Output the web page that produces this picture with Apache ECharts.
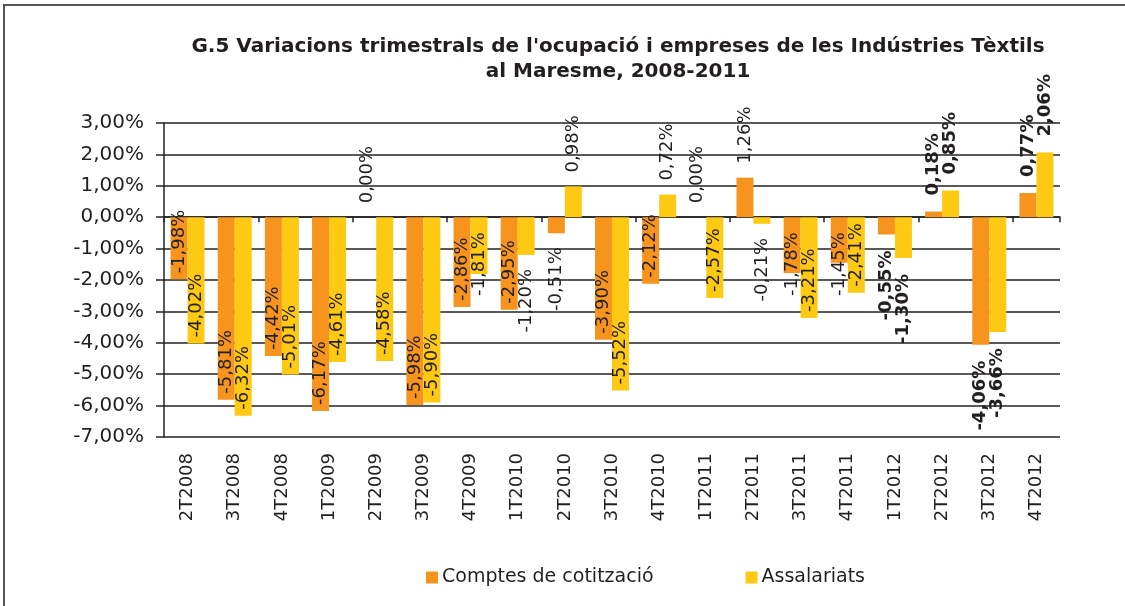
<!DOCTYPE html>
<html>
<head>
<meta charset="utf-8">
<script src="https://cdn.jsdelivr.net/npm/echarts@6/dist/echarts.min.js"></script>
<style>
html,body{margin:0;padding:0;background:#fff;}
#chart{width:1125px;height:606px;}
</style>
</head>
<body>
<div id="chart"></div>
<script>
const titleText = "G.5 Variacions trimestrals de l'ocupació i empreses de les Indústries Tèxtils\nal Maresme, 2008-2011";
const categories = ['2T2008','3T2008','4T2008','1T2009','2T2009','3T2009','4T2009','1T2010','2T2010','3T2010','4T2010','1T2011','2T2011','3T2011','4T2011','1T2012','2T2012','3T2012','4T2012'];
const seriesNames = ['Comptes de cotització', 'Assalariats'];
const comptes = [-1.98,-5.81,-4.42,-6.17,0.00,-5.98,-2.86,-2.95,-0.51,-3.90,-2.12,0.00,1.26,-1.78,-1.45,-0.55,0.18,-4.06,0.77];
const assalariats = [-4.02,-6.32,-5.01,-4.61,-4.58,-5.90,-1.81,-1.20,0.98,-5.52,0.72,-2.57,-0.21,-3.21,-2.41,-1.30,0.85,-3.66,2.06];
const yMin = -7, yMax = 3, yStep = 1;
const boldFrom = '1T2012';

const FONT = 'DejaVu Sans';
const TXT = '#231f20';

function fmt(v) {
  return v.toFixed(2).replace('.', ',') + '%';
}

function labelCfg(v, bold) {
  const base = { show: true, rotate: 90, verticalAlign: 'middle', color: TXT,
    fontFamily: FONT, fontSize: 18, fontWeight: bold ? 'bold' : 'normal',
    formatter: (p) => fmt(p.value) };
  if (bold) {
    return Object.assign(base, v >= 0
      ? { position: 'top', distance: 16, align: 'left' }
      : { position: 'bottom', distance: 16, align: 'right' });
  }
  if (v >= 0) return Object.assign(base, { position: 'top', distance: 14, align: 'left' });
  if (v <= -1.9) return Object.assign(base, { position: 'insideBottom', distance: 6, align: 'left' });
  if (v <= -1.4) return Object.assign(base, { position: 'insideTop', distance: 15, align: 'right' });
  return Object.assign(base, { position: 'bottom', distance: 14, align: 'right' });
}

const boldIdx = categories.indexOf(boldFrom);
function buildData(arr) {
  return arr.map((v, i) => ({ value: v, label: labelCfg(v, i >= boldIdx) }));
}

const chart = echarts.init(document.getElementById('chart'), null, { renderer: 'canvas' });
chart.setOption({
  animation: false,
  backgroundColor: '#fff',
  textStyle: { fontFamily: FONT },
  title: {
    text: titleText,
    left: 613,
    top: 29,
    textAlign: 'center',
    textStyle: { fontFamily: FONT, fontSize: 20, fontWeight: 'bold', color: TXT, lineHeight: 25 }
  },
  graphic: [{
    type: 'rect', shape: { x: 4, y: 5, width: 1200, height: 700 },
    style: { fill: null, stroke: '#555', lineWidth: 2 }, silent: true
  }],
  legend: {
    left: 421, top: 563,
    itemWidth: 12, itemHeight: 12, itemGap: 92,
    icon: 'rect',
    textStyle: { fontFamily: FONT, fontSize: 19, color: TXT, padding: [0, 0, 0, -1] },
    data: seriesNames
  },
  grid: { left: 164, right: 65, top: 123, bottom: 169, containLabel: false },
  xAxis: [{
    type: 'category', data: categories, position: 'bottom',
    axisLine: { onZero: true, lineStyle: { color: '#222', width: 1.5 } },
    axisTick: { show: true, length: 5, lineStyle: { color: '#222', width: 1.5 } },
    axisLabel: { show: false },
    splitLine: { show: false }
  }, {
    type: 'category', data: categories, position: 'bottom',
    axisLine: { show: false, onZero: false },
    axisTick: { show: false },
    axisLabel: { show: true, rotate: 90, margin: 16, fontFamily: FONT, fontSize: 18, color: TXT, interval: 0 },
    splitLine: { show: false }
  }],
  yAxis: {
    type: 'value', min: yMin, max: yMax, interval: yStep,
    axisLine: { show: true, lineStyle: { color: '#222', width: 1.5 } },
    axisTick: { show: true, length: 8, lineStyle: { color: '#222', width: 1.5 } },
    axisLabel: { margin: 20, fontFamily: FONT, fontSize: 20, color: TXT, formatter: (v) => fmt(v) },
    splitLine: { show: true, lineStyle: { color: '#222', width: 1.5 } }
  },
  series: [{
    name: seriesNames[0], type: 'bar', xAxisIndex: 0,
    data: buildData(comptes),
    barWidth: 17, barGap: '0%',
    itemStyle: { color: '#f6941e' }
  }, {
    name: seriesNames[1], type: 'bar', xAxisIndex: 0,
    data: buildData(assalariats),
    barWidth: 17, barGap: '0%',
    itemStyle: { color: '#fdc912' }
  }]
});
</script>
</body>
</html>
